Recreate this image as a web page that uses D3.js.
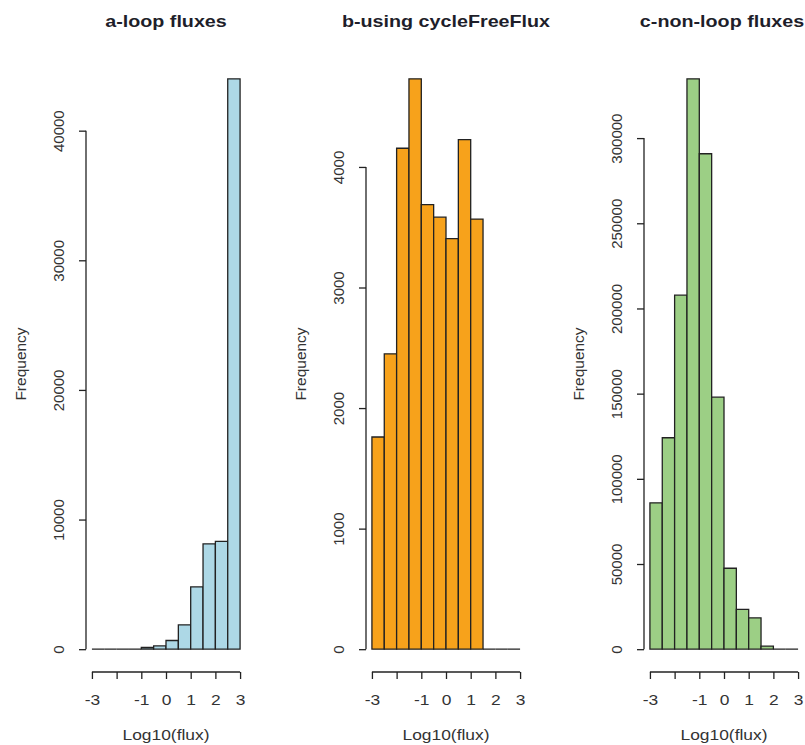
<!DOCTYPE html>
<html>
<head>
<meta charset="utf-8">
<script src="https://cdn.jsdelivr.net/npm/d3@7"></script>
<style>
  body { margin: 0; background: #fff; }
  svg { display: block; font-family: "Liberation Sans", Arial, sans-serif; }
</style>
</head>
<body>
<svg id="chart" width="805" height="745"></svg>
<script>
// histogram bin edges (log10 flux)
const binEdges = [-3, -2.5, -2, -1.5, -1, -0.5, 0, 0.5, 1, 1.5, 2, 2.5, 3];

// counts per bin
const loopCounts = [0, 0, 0, 0, 130, 250, 670, 1880, 4810, 8130, 8310, 44000];
const cycleFreeCounts = [1760, 2450, 4155, 4731, 3687, 3583, 3405, 4227, 3568, 0, 0, 0];
const nonLoopCounts = [85900, 124100, 207800, 334800, 290800, 147900, 47500, 23400, 18400, 1800, 0, 0];

const xTicks = [-3, -2, -1, 0, 1, 2, 3];
const xTickLabels = ["-3", "", "-1", "0", "1", "2", "3"];
const loopYTicks = [0, 10000, 20000, 30000, 40000];
const cycleFreeYTicks = [0, 1000, 2000, 3000, 4000];
const nonLoopYTicks = [0, 50000, 100000, 150000, 200000, 250000, 300000];

const panels = [
  { title: "a-loop fluxes", counts: loopCounts, yTicks: loopYTicks, fill: "#add8e6", left: 86, titleShift: 0 },
  { title: "b-using cycleFreeFlux", counts: cycleFreeCounts, yTicks: cycleFreeYTicks, fill: "#f7a21b", left: 366, titleShift: 0 },
  { title: "c-non-loop fluxes", counts: nonLoopCounts, yTicks: nonLoopYTicks, fill: "#9ccf85", left: 644, titleShift: -2 }
];

const svg = d3.select("#chart");
const plotW = 160, plotTop = 56, plotBottom = 672;
const ink = "#222";
const stretch = 1.16; // the source image is a bit wider than tall

panels.forEach(p => {
  const g = svg.append("g");
  const maxCount = d3.max(p.counts);
  // R style: 4% padding on both ends of each axis
  const x = d3.scaleLinear().domain([-3.24, 3.24]).range([p.left, p.left + plotW]);
  const y = d3.scaleLinear().domain([-0.04 * maxCount, 1.04 * maxCount]).range([plotBottom, plotTop]);

  const bins = p.counts.map((c, i) => ({ x0: binEdges[i], x1: binEdges[i + 1], count: c }));
  g.selectAll("path.bar")
    .data(bins)
    .join("path")
    .attr("class", "bar")
    .attr("d", d => `M${x(d.x0)},${y(0)}V${y(d.count)}H${x(d.x1)}V${y(0)}Z`)
    .attr("fill", p.fill)
    .attr("stroke", ink)
    .attr("stroke-width", 1.3);

  // y axis
  const yAxis = g.append("g")
    .attr("transform", `translate(${p.left},0)`)
    .call(d3.axisLeft(y).tickValues(p.yTicks).tickSize(7).tickSizeOuter(0).tickFormat(d3.format("d")));
  yAxis.select(".domain").remove();
  yAxis.append("line")
    .attr("y1", y(p.yTicks[0])).attr("y2", y(p.yTicks[p.yTicks.length - 1]))
    .attr("stroke", ink).attr("stroke-width", 1.3);
  yAxis.selectAll(".tick line").attr("stroke", ink).attr("stroke-width", 1.3);
  yAxis.selectAll(".tick text")
    .attr("transform", "rotate(-90)")
    .attr("x", 0).attr("y", -22).attr("dy", null)
    .attr("text-anchor", "middle")
    .attr("font-size", 15)
    .attr("fill", "#333");

  // x axis
  const xAxis = g.append("g")
    .attr("transform", `translate(0,${plotBottom})`)
    .call(d3.axisBottom(x).tickValues(xTicks).tickSize(7).tickSizeOuter(0)
      .tickFormat((d, i) => xTickLabels[i]));
  xAxis.select(".domain").remove();
  xAxis.append("line")
    .attr("x1", x(xTicks[0])).attr("x2", x(xTicks[xTicks.length - 1]))
    .attr("stroke", ink).attr("stroke-width", 1.3);
  xAxis.selectAll(".tick line").attr("stroke", ink).attr("stroke-width", 1.3);
  xAxis.selectAll(".tick text")
    .attr("y", 33).attr("dy", null)
    .attr("transform", `scale(${stretch},1)`)
    .attr("font-size", 15)
    .attr("fill", "#333");

  const cx = p.left + plotW / 2;
  svg.append("text")
    .attr("transform", `translate(${cx + p.titleShift},27) scale(${stretch},1)`)
    .attr("text-anchor", "middle")
    .attr("font-size", 17).attr("font-weight", "bold")
    .attr("fill", "#1e1e2a")
    .text(p.title);

  svg.append("text")
    .attr("transform", `translate(${cx},740) scale(${stretch},1)`)
    .attr("text-anchor", "middle")
    .attr("font-size", 15)
    .attr("fill", "#333")
    .text("Log10(flux)");

  svg.append("text")
    .attr("transform", `translate(${p.left - 60},${(plotTop + plotBottom) / 2}) rotate(-90)`)
    .attr("text-anchor", "middle")
    .attr("font-size", 15.5)
    .attr("fill", "#333")
    .text("Frequency");
});
</script>
</body>
</html>
